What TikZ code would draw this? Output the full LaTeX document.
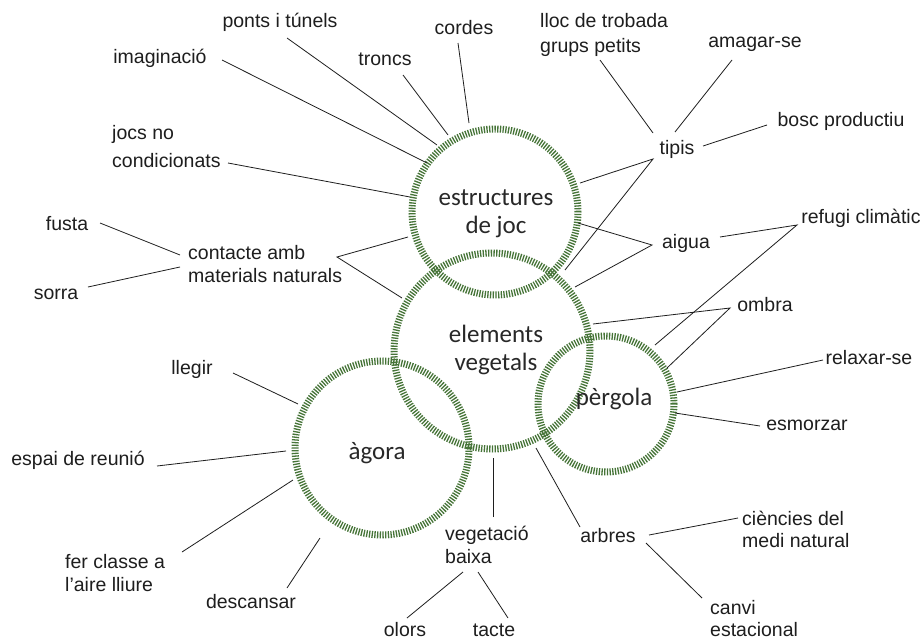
\documentclass[tikz,border=0pt]{standalone}
\usepackage{fontspec}
\setmainfont{Liberation Sans}
\newfontfamily\circfont{Carlito}
\definecolor{ringgreen}{RGB}{70,116,56}
\definecolor{hubtext}{RGB}{40,40,40}
\definecolor{inkline}{RGB}{30,30,30}
\begin{document}
\begin{tikzpicture}[x=1pt,y=-1pt,
  ring/.style={circle, inner sep=0pt, draw=ringgreen, line width=7pt, dash pattern=on 1.3pt off 1.4pt},
  hub/.style={font=\circfont\fontsize{25}{28}\selectfont, text=hubtext, align=center, inner sep=0pt},
  lbl/.style={font=\fontsize{19.5}{23.5}\selectfont, text=inkline, inner sep=0pt, anchor=base},
  mlbl/.style={font=\fontsize{19.5}{23.5}\selectfont, text=inkline, inner sep=0pt, anchor=west, align=left},
  conn/.style={draw=inkline, line width=0.8pt}]
\fill[white] (0,0) rectangle (922,640);
\useasboundingbox (0,0) rectangle (922,640);

% rings
\node[ring, minimum size=166pt] (estr) at (495,212) {};
\node[ring, minimum size=196pt] (elem) at (492,351) {};
\node[ring, minimum size=136pt] (perg) at (606,404) {};
\node[ring, minimum size=174pt] (agor) at (382,448) {};

% hub labels
\node[hub] (estrT) at (496,214) {estructures\\de joc};
\node[hub] (elemT) at (496,350) {elements\\vegetals};
\node[hub] (pergT) at (614,399) {pèrgola};
\node[hub] (agorT) at (377,453) {àgora};

% single-line labels
\node[lbl] (ponts) at (280,27) {ponts i túnels};
\node[lbl] (imag) at (160,63) {imaginació};
\node[lbl] (troncs) at (385,65) {troncs};
\node[lbl] (cordes) at (464,34) {cordes};
\node[lbl] (amagar) at (755,47) {amagar-se};
\node[lbl] (bosc) at (841,126) {bosc productiu};
\node[lbl] (tipis) at (677,154) {tipis};
\node[lbl] (aigua) at (686,248) {aigua};
\node[lbl] (refugi) at (861,223) {refugi climàtic};
\node[lbl] (ombra) at (765,311) {ombra};
\node[lbl] (relax) at (869,364) {relaxar-se};
\node[lbl] (esmor) at (807,430) {esmorzar};
\node[lbl] (fusta) at (67,230) {fusta};
\node[lbl] (sorra) at (56,299) {sorra};
\node[lbl] (llegir) at (192,374) {llegir};
\node[lbl] (espai) at (78,465) {espai de reunió};
\node[lbl] (desc) at (251,608) {descansar};
\node[lbl] (arbres) at (608,542) {arbres};
\node[lbl] (olors) at (405,636) {olors};
\node[lbl] (tacte) at (494,636) {tacte};

% multi-line labels
\node[mlbl] (jocs) at (112,147) {jocs no\\[4.5pt]condicionats};
\node[mlbl] (lloc) at (540,35) {lloc de trobada\\[1.5pt]grups petits};
\node[mlbl] (contacte) at (188,264) {contacte amb\\materials naturals};
\node[mlbl] (ferclasse) at (65,573) {fer classe a\\l'aire lliure};
\node[mlbl] (veget) at (445,545) {vegetació\\baixa};
\node[mlbl] (ciencies) at (742,529) {ciències del\\[-1.5pt]medi natural};
\node[mlbl] (canvi) at (710,619) {canvi\\[-1.5pt]estacional};

% connector end points
\coordinate (imag-a) at (222,60);   \coordinate (imag-b) at (427,163);
\coordinate (ponts-a) at (287,38);  \coordinate (ponts-b) at (437,145);
\coordinate (troncs-a) at (403,75); \coordinate (troncs-b) at (448,135);
\coordinate (cordes-a) at (458,43); \coordinate (cordes-b) at (469,123);
\coordinate (jocs-a) at (228,163);  \coordinate (jocs-b) at (410,197);

\coordinate (lloc-a) at (600,60);   \coordinate (amag-a) at (732,60);
\coordinate (bosc-a) at (767,125);
\coordinate (tipis-n) at (653,133); \coordinate (tipis-ne) at (675,132);
\coordinate (tipis-e) at (703,146); \coordinate (tipis-w) at (653,159);
\coordinate (tipis-b1) at (580,183); \coordinate (tipis-b2) at (565,270);

\coordinate (aigua-w) at (652,245); \coordinate (aigua-b1) at (578,223);
\coordinate (aigua-b2) at (575,287); \coordinate (aigua-e) at (720,237);
\coordinate (refugi-w) at (797,225); \coordinate (refugi-b) at (655,345);
\coordinate (ombra-w) at (730,308); \coordinate (ombra-b1) at (593,324);
\coordinate (ombra-b2) at (667,368);
\coordinate (relax-w) at (823,360); \coordinate (relax-b) at (677,392);
\coordinate (esmor-w) at (760,426); \coordinate (esmor-b) at (675,413);

\coordinate (fusta-e) at (100,223); \coordinate (sorra-e) at (88,287);
\coordinate (cont-w1) at (180,255); \coordinate (cont-w2) at (180,267);
\coordinate (cont-e) at (337,257);  \coordinate (cont-b1) at (408,237);
\coordinate (cont-b2) at (402,298);

\coordinate (llegir-a) at (233,373); \coordinate (llegir-b) at (298,404);
\coordinate (espai-a) at (157,466);  \coordinate (espai-b) at (286,451);
\coordinate (fer-a) at (182,552);    \coordinate (fer-b) at (293,480);
\coordinate (desc-a) at (287,588);   \coordinate (desc-b) at (320,538);

\coordinate (veget-a) at (493,517);  \coordinate (veget-b) at (493,458);
\coordinate (arbres-a) at (580,527); \coordinate (arbres-b) at (536,448);
\coordinate (arbres-e1) at (649,535); \coordinate (cien-a) at (738,518);
\coordinate (arbres-e2) at (646,543); \coordinate (canvi-a) at (702,598);
\coordinate (baixa-1) at (463,572);  \coordinate (olors-a) at (407,618);
\coordinate (baixa-2) at (478,572);  \coordinate (tacte-a) at (508,618);

% connectors
\draw[conn] (imag-a) -- (imag-b);
\draw[conn] (ponts-a) -- (ponts-b);
\draw[conn] (troncs-a) -- (troncs-b);
\draw[conn] (cordes-a) -- (cordes-b);
\draw[conn] (jocs-a) -- (jocs-b);

\draw[conn] (lloc-a) -- (tipis-n);
\draw[conn] (amag-a) -- (tipis-ne);
\draw[conn] (bosc-a) -- (tipis-e);
\draw[conn] (tipis-b1) -- (tipis-w) -- (tipis-b2);

\draw[conn] (aigua-b1) -- (aigua-w) -- (aigua-b2);
\draw[conn] (aigua-e) -- (refugi-w) -- (refugi-b);
\draw[conn] (ombra-b1) -- (ombra-w) -- (ombra-b2);
\draw[conn] (relax-w) -- (relax-b);
\draw[conn] (esmor-w) -- (esmor-b);

\draw[conn] (fusta-e) -- (cont-w1);
\draw[conn] (sorra-e) -- (cont-w2);
\draw[conn] (cont-b1) -- (cont-e) -- (cont-b2);

\draw[conn] (llegir-a) -- (llegir-b);
\draw[conn] (espai-a) -- (espai-b);
\draw[conn] (fer-a) -- (fer-b);
\draw[conn] (desc-a) -- (desc-b);

\draw[conn] (veget-a) -- (veget-b);
\draw[conn] (arbres-a) -- (arbres-b);
\draw[conn] (arbres-e1) -- (cien-a);
\draw[conn] (arbres-e2) -- (canvi-a);
\draw[conn] (baixa-1) -- (olors-a);
\draw[conn] (baixa-2) -- (tacte-a);
\end{tikzpicture}
\end{document}
